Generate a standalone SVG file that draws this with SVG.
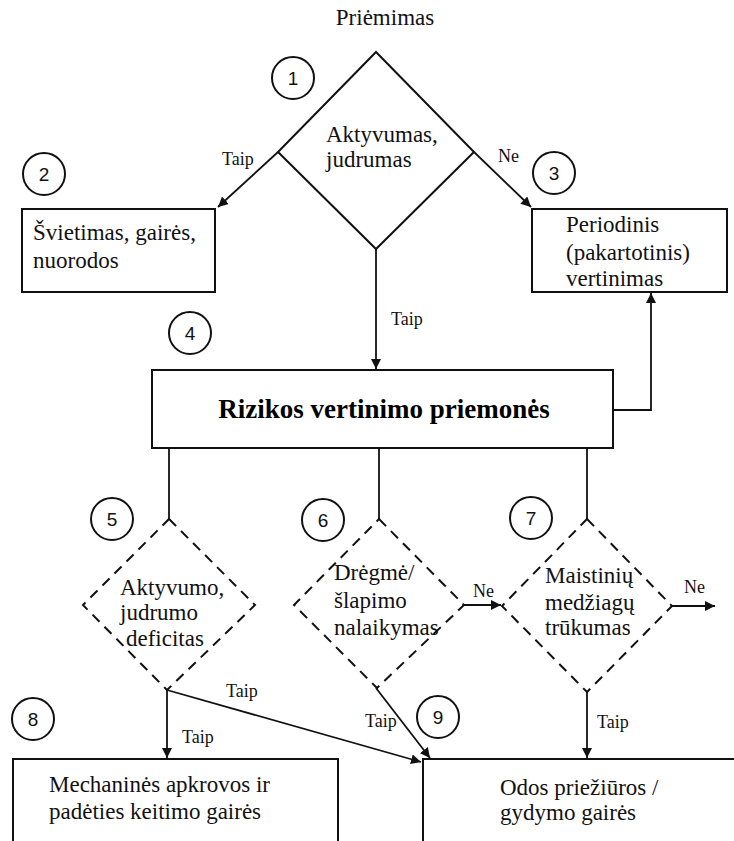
<svg xmlns="http://www.w3.org/2000/svg" width="734" height="841" viewBox="0 0 734 841">
<style>
.bg{fill:#fff}
.box{fill:#fff;stroke:#111;stroke-width:2}
.dia{fill:none;stroke:#111;stroke-width:2}
.dash{fill:none;stroke:#111;stroke-width:2;stroke-dasharray:10 7}
.circ{fill:#fff;stroke:#111;stroke-width:2}
.num{font-family:"Liberation Sans",Arial,sans-serif;font-size:19px;fill:#111;text-anchor:middle}
.t{font-family:"Liberation Serif","Times New Roman",serif;font-size:23px;fill:#111}
.lbl{font-family:"Liberation Serif","Times New Roman",serif;font-size:18px;fill:#111}
.bold{font-family:"Liberation Serif","Times New Roman",serif;font-size:27px;font-weight:bold;fill:#000;text-anchor:middle}
.c{fill:none;stroke:#111;stroke-width:1.8}
</style>
<defs>
<marker id="ah" viewBox="0 0 10 10" refX="10" refY="5" markerWidth="10" markerHeight="10" markerUnits="userSpaceOnUse" orient="auto">
<path d="M0,0 L10,5 L0,10 z" fill="#111"/>
</marker>
</defs>
<rect class="bg" x="0" y="0" width="734" height="841"/>

<text class="t" x="385" y="25" text-anchor="middle">Priėmimas</text>

<g id="connectors">
<line class="c" x1="278" y1="152" x2="218" y2="207" marker-end="url(#ah)"/>
<line class="c" x1="474" y1="152" x2="531" y2="207" marker-end="url(#ah)"/>
<line class="c" x1="376" y1="249" x2="376" y2="369" marker-end="url(#ah)"/>
<polyline class="c" points="613,410 651,410 651,293" marker-end="url(#ah)"/>
<line class="c" x1="169" y1="448" x2="169" y2="519"/>
<line class="c" x1="379" y1="448" x2="379" y2="519"/>
<line class="c" x1="587" y1="448" x2="587" y2="519"/>
<line class="c" x1="167" y1="690" x2="167" y2="758" marker-end="url(#ah)"/>
<line class="c" x1="167" y1="690" x2="421" y2="762" marker-end="url(#ah)"/>
<line class="c" x1="376" y1="688" x2="430" y2="758" marker-end="url(#ah)"/>
<line class="c" x1="464" y1="605" x2="501" y2="605" marker-end="url(#ah)"/>
<line class="c" x1="672" y1="606" x2="715" y2="606" marker-end="url(#ah)"/>
<line class="c" x1="587" y1="692" x2="587" y2="758" marker-end="url(#ah)"/>
<text class="lbl" x="222" y="165">Taip</text>
<text class="lbl" x="498" y="162">Ne</text>
<text class="lbl" x="391" y="325">Taip</text>
<text class="lbl" x="473" y="597">Ne</text>
<text class="lbl" x="684" y="593">Ne</text>
<text class="lbl" x="597" y="728">Taip</text>
<text class="lbl" x="182" y="743">Taip</text>
<text class="lbl" x="226" y="697">Taip</text>
<text class="lbl" x="365" y="727">Taip</text>
</g>

<g id="n1">
<polygon class="dia" points="376,52 474,152 376,249 278,152"/>
<text class="t" x="326" y="142">Aktyvumas,</text>
<text class="t" x="326" y="167">judrumas</text>
<circle class="circ" cx="293" cy="78" r="21"/>
<text class="num" x="293" y="85">1</text>
</g>

<g id="n2">
<rect class="box" x="22" y="209" width="193" height="83"/>
<text class="t" x="33" y="240">Švietimas, gairės,</text>
<text class="t" x="33" y="268">nuorodos</text>
<circle class="circ" cx="44" cy="174" r="21"/>
<text class="num" x="44" y="181">2</text>
</g>

<g id="n3">
<rect class="box" x="532" y="209" width="195" height="83"/>
<text class="t" x="566" y="232">Periodinis</text>
<text class="t" x="566" y="260">(pakartotinis)</text>
<text class="t" x="566" y="286">vertinimas</text>
<circle class="circ" cx="554" cy="173" r="21"/>
<text class="num" x="554" y="180">3</text>
</g>

<g id="n4">
<rect class="box" x="152" y="370" width="461" height="78"/>
<text class="bold" x="384" y="418">Rizikos vertinimo priemonės</text>
<circle class="circ" cx="190" cy="333" r="21"/>
<text class="num" x="190" y="340">4</text>
</g>

<g id="n5">
<polygon class="dash" points="169,519 255,605 167,690 83,605"/>
<text class="t" x="120" y="595">Aktyvumo,</text>
<text class="t" x="120" y="620">judrumo</text>
<text class="t" x="126" y="646">deficitas</text>
<circle class="circ" cx="112" cy="519" r="21"/>
<text class="num" x="112" y="526">5</text>
</g>

<g id="n6">
<polygon class="dash" points="379,519 464,605 377,688 294,605"/>
<text class="t" x="334" y="580">Drėgmė/</text>
<text class="t" x="334" y="608">šlapimo</text>
<text class="t" x="334" y="635">nalaikymas</text>
<circle class="circ" cx="323" cy="520" r="21"/>
<text class="num" x="323" y="527">6</text>
</g>

<g id="n7">
<polygon class="dash" points="587,519 672,606 587,692 502,606"/>
<text class="t" x="545" y="583">Maistinių</text>
<text class="t" x="545" y="610">medžiagų</text>
<text class="t" x="545" y="635">trūkumas</text>
<circle class="circ" cx="531" cy="518" r="21"/>
<text class="num" x="531" y="525">7</text>
</g>

<g id="n8">
<rect class="box" x="13" y="759" width="325" height="100"/>
<text class="t" x="49" y="792">Mechaninės apkrovos ir</text>
<text class="t" x="49" y="819">padėties keitimo gairės</text>
<circle class="circ" cx="33" cy="719" r="21"/>
<text class="num" x="33" y="726">8</text>
</g>

<g id="n9">
<rect class="box" x="423" y="759" width="330" height="100"/>
<text class="t" x="500" y="795">Odos priežiūros /</text>
<text class="t" x="500" y="820">gydymo gairės</text>
<circle class="circ" cx="438" cy="717" r="21"/>
<text class="num" x="438" y="724">9</text>
</g>
</svg>
